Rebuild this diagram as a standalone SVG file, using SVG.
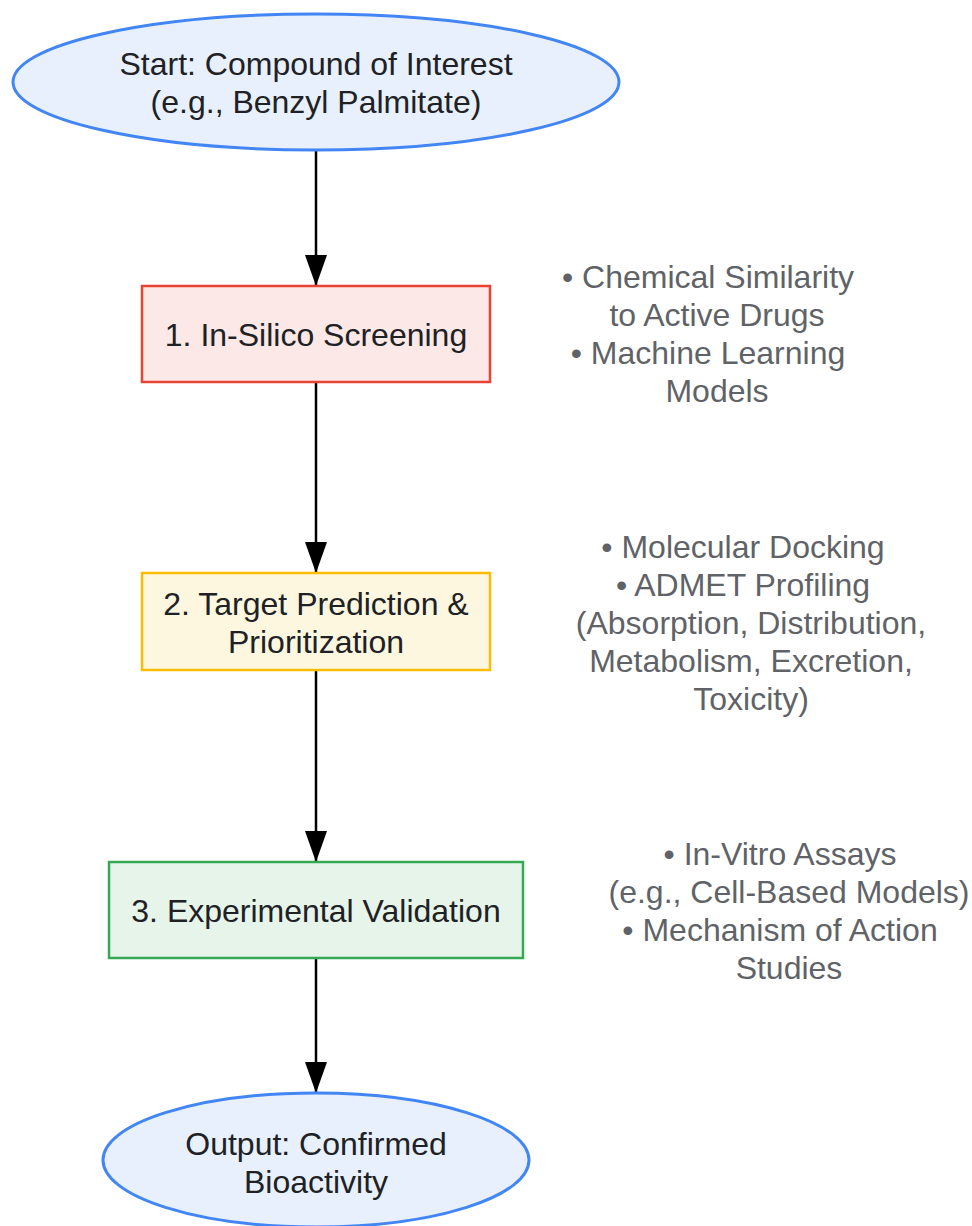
<svg xmlns="http://www.w3.org/2000/svg" width="972" height="1226" viewBox="0 0 972 1226">
<defs>
<marker id="arrow" viewBox="0 0 31 22" refX="31" refY="11" markerWidth="31" markerHeight="22" markerUnits="userSpaceOnUse" orient="auto">
<path d="M0,0 L31,11 L0,22 Z" fill="#000"/>
</marker>
<style>
.lbl{font-family:"Liberation Sans",Arial,sans-serif;font-size:32px;fill:#202124;text-anchor:middle}
.note{font-family:"Liberation Sans",Arial,sans-serif;font-size:32px;fill:#5f6368;text-anchor:middle}
.term{fill:#e8f0fe;stroke:#4285f4;stroke-width:3}
.edge{stroke:#000;stroke-width:2.5;fill:none}
</style>
</defs>
<rect width="972" height="1226" fill="#fff"/>
<g id="connectors">
<line class="edge" x1="316" y1="150" x2="316" y2="286" marker-end="url(#arrow)"/>
<line class="edge" x1="316" y1="382" x2="316" y2="573" marker-end="url(#arrow)"/>
<line class="edge" x1="316" y1="670" x2="316" y2="862" marker-end="url(#arrow)"/>
<line class="edge" x1="316" y1="958" x2="316" y2="1093" marker-end="url(#arrow)"/>
</g>
<g id="start">
<ellipse class="term" cx="316" cy="82" rx="303" ry="68"/>
<text class="lbl" x="316" y="75">Start: Compound of Interest</text>
<text class="lbl" x="316" y="113">(e.g., Benzyl Palmitate)</text>
</g>
<g id="step1">
<rect x="142" y="286" width="348" height="96" fill="#fce8e6" stroke="#ea4335" stroke-width="2.5"/>
<text class="lbl" x="316" y="346">1. In-Silico Screening</text>
</g>
<g id="note1">
<text class="note" x="708" y="288">• Chemical Similarity</text>
<text class="note" x="717" y="326">to Active Drugs</text>
<text class="note" x="708" y="364">• Machine Learning</text>
<text class="note" x="717" y="402">Models</text>
</g>
<g id="step2">
<rect x="142" y="573" width="348" height="97" fill="#fef7e0" stroke="#fbbc04" stroke-width="2.5"/>
<text class="lbl" x="316" y="615">2. Target Prediction &amp;</text>
<text class="lbl" x="316" y="653">Prioritization</text>
</g>
<g id="note2">
<text class="note" x="743" y="558">• Molecular Docking</text>
<text class="note" x="743" y="596">• ADMET Profiling</text>
<text class="note" x="751" y="634">(Absorption, Distribution,</text>
<text class="note" x="751" y="672">Metabolism, Excretion,</text>
<text class="note" x="751" y="710">Toxicity)</text>
</g>
<g id="step3">
<rect x="109" y="862" width="414" height="96" fill="#e6f4ea" stroke="#34a853" stroke-width="2.5"/>
<text class="lbl" x="316" y="922">3. Experimental Validation</text>
</g>
<g id="note3">
<text class="note" x="780" y="865">• In-Vitro Assays</text>
<text class="note" x="789" y="903">(e.g., Cell-Based Models)</text>
<text class="note" x="780" y="941">• Mechanism of Action</text>
<text class="note" x="789" y="979">Studies</text>
</g>
<g id="output">
<ellipse class="term" cx="316" cy="1160" rx="213" ry="67"/>
<text class="lbl" x="316" y="1155">Output: Confirmed</text>
<text class="lbl" x="316" y="1193">Bioactivity</text>
</g>
</svg>
